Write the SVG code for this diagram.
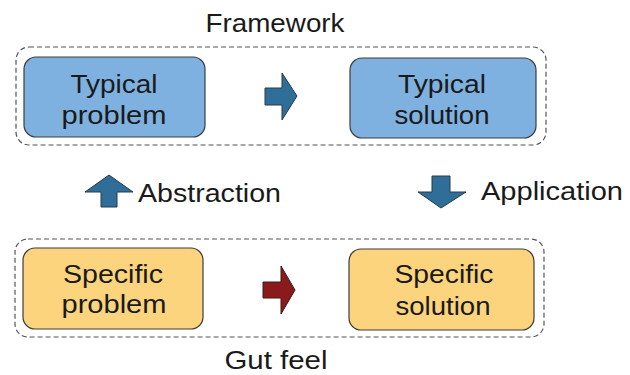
<svg xmlns="http://www.w3.org/2000/svg" width="630" height="375" viewBox="0 0 630 375">
  <style>
    text { font-family: "Liberation Sans", Arial, sans-serif; fill: #1a1a1a; text-anchor: middle; }
    .node-text { font-size: 26px; }
    .label { font-size: 25px; }
    .side { font-size: 25px; text-anchor: start; }
    .frame { fill: none; stroke: #555; stroke-width: 1.2; stroke-dasharray: 5 3; }
    .typical { fill: #7eb1df; stroke: #3c3c3c; stroke-width: 1.2; }
    .specific { fill: #fcd47e; stroke: #3c3c3c; stroke-width: 1.2; }
    .arrow-blue { fill: #2e6e99; stroke: #2a3a48; stroke-width: 1; }
    .arrow-red { fill: #8b1a1c; stroke: #3a1a1a; stroke-width: 1; }
  </style>

  <!-- dashed frames -->
  <rect class="frame" x="16" y="47" width="530" height="98" rx="13"/>
  <rect class="frame" x="15" y="239" width="529" height="98" rx="13"/>

  <!-- frame captions -->
  <text class="label" x="275" y="32" textLength="139" lengthAdjust="spacingAndGlyphs">Framework</text>
  <text class="label" x="276" y="369" font-size="24" textLength="103" lengthAdjust="spacingAndGlyphs">Gut feel</text>

  <g id="typical-problem">
    <rect class="typical" x="24" y="57" width="181" height="80" rx="12"/>
    <text class="node-text" x="114" y="93" textLength="87" lengthAdjust="spacingAndGlyphs">Typical</text>
    <text class="node-text" x="114" y="124" textLength="105" lengthAdjust="spacingAndGlyphs">problem</text>
  </g>

  <g id="typical-solution">
    <rect class="typical" x="350" y="58" width="186" height="80" rx="12"/>
    <text class="node-text" x="442" y="93" textLength="88" lengthAdjust="spacingAndGlyphs">Typical</text>
    <text class="node-text" x="442" y="124" textLength="95" lengthAdjust="spacingAndGlyphs">solution</text>
  </g>

  <g id="specific-problem">
    <rect class="specific" x="23" y="248" width="180" height="81" rx="12"/>
    <text class="node-text" x="113" y="283" textLength="100" lengthAdjust="spacingAndGlyphs">Specific</text>
    <text class="node-text" x="114" y="313" textLength="105" lengthAdjust="spacingAndGlyphs">problem</text>
  </g>

  <g id="specific-solution">
    <rect class="specific" x="349" y="249" width="185" height="81" rx="12"/>
    <text class="node-text" x="444" y="283" textLength="99" lengthAdjust="spacingAndGlyphs">Specific</text>
    <text class="node-text" x="443" y="315" textLength="95" lengthAdjust="spacingAndGlyphs">solution</text>
  </g>

  <g id="connectors">
    <!-- framework: problem to solution -->
    <polygon class="arrow-blue" points="265,88 282,88 282,73 297,96 282,120 282,105 265,105"/>
    <!-- gut feel: problem to solution -->
    <polygon class="arrow-red" points="263,282 281,282 281,266 295,290 281,314 281,298 263,298"/>
    <!-- abstraction (up) -->
    <polygon class="arrow-blue" points="101,207 117,207 117,192 133,192 109,175 85,192 101,192"/>
    <!-- application (down) -->
    <polygon class="arrow-blue" points="432,176 450,176 450,192 466,192 441,208 418,192 432,192"/>
  </g>

  <text class="side" x="138" y="202" textLength="143" lengthAdjust="spacingAndGlyphs">Abstraction</text>
  <text class="side" x="481" y="200" textLength="142" lengthAdjust="spacingAndGlyphs">Application</text>
</svg>
